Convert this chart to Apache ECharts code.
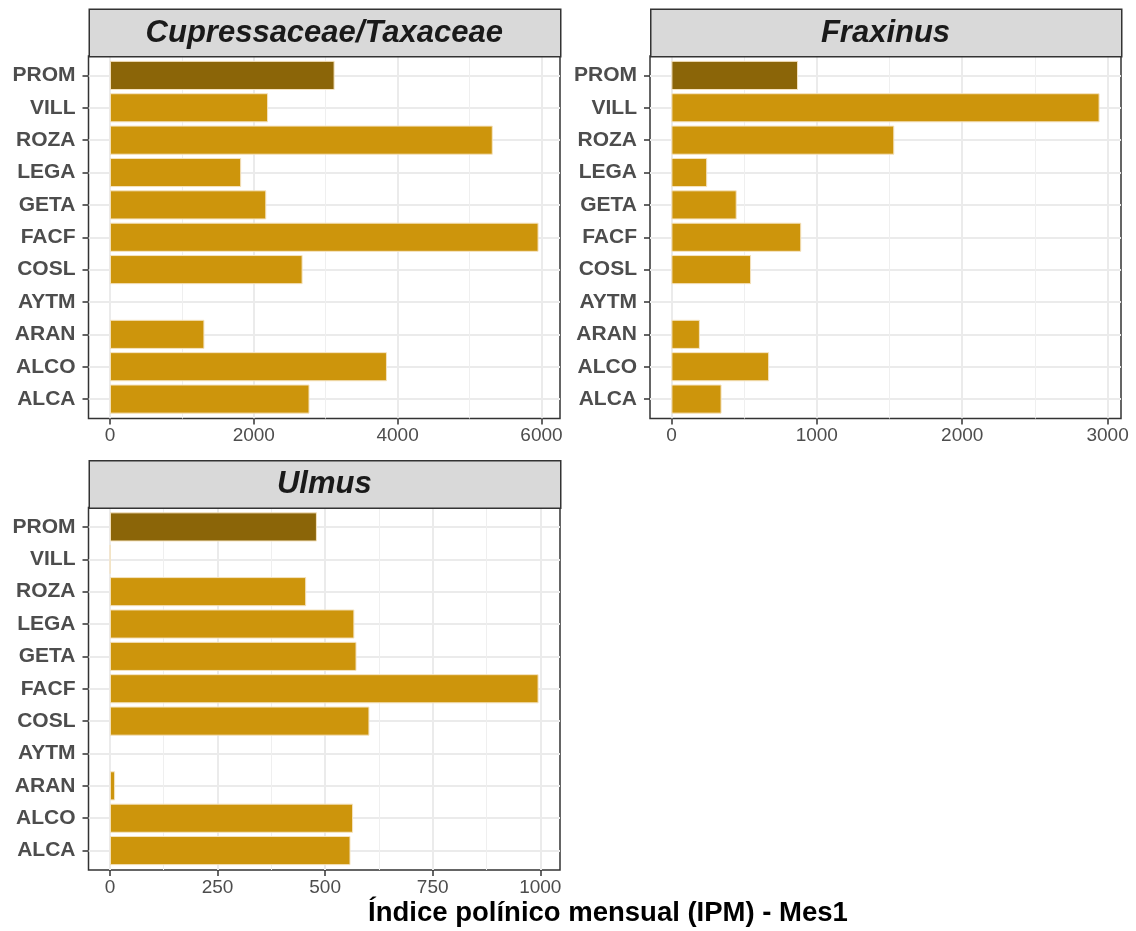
<!DOCTYPE html>
<html><head><meta charset="utf-8">
<script src="https://cdn.jsdelivr.net/npm/echarts@6/dist/echarts.min.js"></script>
<style>html,body{margin:0;padding:0;background:#fff}#c{width:1136px;height:931px}</style>
</head><body><div id="c"></div>
<script>
// ---- data ----
const categories = ['ALCA','ALCO','ARAN','AYTM','COSL','FACF','GETA','LEGA','ROZA','VILL','PROM'];
const panelTitles = ['Cupressaceae/Taxaceae','Fraxinus','Ulmus'];
const cupressaceae = [2775,3852,1314,null,2679,5960,2174,1825,5323,2199,3124];
const fraxinus     = [345,672,196,null,548,893,449,246,1533,2945,871];
const ulmus        = [559,565,12,null,603,996,573,568,456,1,481];
const ticksCupressaceae = [0,2000,4000,6000];
const ticksFraxinus     = [0,1000,2000,3000];
const ticksUlmus        = [0,250,500,750,1000];
const minorCupressaceae = [1000,3000,5000];
const minorFraxinus     = [500,1500,2500];
const minorUlmus        = [125,375,625,875];
const xTitle = 'Índice polínico mensual (IPM) - Mes1';

// ---- layout / style ----
const FONT = "'Liberation Sans', Arial, Helvetica, sans-serif";
const seriesValues = [cupressaceae, fraxinus, ulmus];
const majorTicks = [ticksCupressaceae, ticksFraxinus, ticksUlmus];
const minorTicks = [minorCupressaceae, minorFraxinus, minorUlmus];
const panels = [
  {left: 88.5, top: 56, width: 471.5},
  {left: 650, top: 56, width: 471},
  {left: 88.5, top: 507.5, width: 471.5}
];
const PH = 362.5;           // panel height
const STRIP = 47.5;         // strip height
const band = PH / (categories.length + 0.2);
const COL_MAIN = '#CD950C', COL_PROM = '#8B6508';

const grid = [], xAxis = [], yAxis = [], series = [], graphic = [];
panels.forEach((p, i) => {
  const vals = seriesValues[i];
  const vmax = Math.max(...vals.filter(v => v != null));
  const lo = -0.05 * vmax, hi = 1.05 * vmax;
  const gA = grid.length;
  grid.push({left: p.left, top: p.top, width: p.width, height: PH, show: true,
    backgroundColor: '#ffffff', borderColor: '#333333', borderWidth: 1.5, containLabel: false});
  const gB = grid.length;
  grid.push({left: p.left, top: p.top + 0.1 * band, width: p.width, height: band * categories.length,
    show: false, containLabel: false});
  // minor vertical grid
  xAxis.push({type: 'value', gridIndex: gA, min: lo, max: hi, position: 'bottom',
    axisLine: {show: false, onZero: false}, axisLabel: {show: false},
    axisTick: {show: false, customValues: minorTicks[i]},
    splitLine: {show: true, lineStyle: {color: '#EFEFEF', width: 1}}});
  // major vertical grid + ticks + labels
  xAxis.push({type: 'value', gridIndex: gA, min: lo, max: hi, position: 'bottom',
    axisLine: {show: false, onZero: false},
    axisTick: {show: true, length: 6, customValues: majorTicks[i], lineStyle: {color: '#333333', width: 1.5}},
    axisLabel: {show: true, customValues: majorTicks[i], margin: 8, color: '#4D4D4D',
      fontFamily: FONT, fontSize: 19, formatter: v => String(v)},
    splitLine: {show: true, lineStyle: {color: '#EBEBEB', width: 2}}});
  const xB = xAxis.length;
  xAxis.push({type: 'value', gridIndex: gB, min: lo, max: hi, show: false,
    axisLine: {onZero: false}, splitLine: {show: false}});
  // horizontal grid lines at category positions
  yAxis.push({type: 'value', gridIndex: gA, min: 0.4, max: categories.length + 0.6,
    axisLine: {show: false, onZero: false}, axisLabel: {show: false},
    axisTick: {show: false, customValues: categories.map((c, k) => k + 1)},
    splitLine: {show: true, lineStyle: {color: '#EBEBEB', width: 2}}});
  const yB = yAxis.length;
  yAxis.push({type: 'category', gridIndex: gB, data: categories, boundaryGap: true, position: 'left',
    axisLine: {show: false, onZero: false},
    axisTick: {show: true, alignWithLabel: true, length: 6, lineStyle: {color: '#333333', width: 1.5}},
    axisLabel: {show: true, margin: 13, color: '#4D4D4D', fontFamily: FONT, fontSize: 21, fontWeight: 'bold'},
    splitLine: {show: false}});
  series.push({type: 'bar', xAxisIndex: xB, yAxisIndex: yB, data: vals,
    barCategoryGap: '10%', clip: false,
    itemStyle: {color: params => params.name === 'PROM' ? COL_PROM : COL_MAIN,
      borderColor: '#F5E3C0', borderWidth: 1}});
  // facet strip
  graphic.push({type: 'rect', left: p.left, top: p.top - STRIP,
    shape: {x: 0, y: 0, width: p.width, height: STRIP},
    style: {fill: '#D9D9D9', stroke: '#333333', lineWidth: 1.5}, z: 10});
  graphic.push({type: 'text', x: p.left + p.width / 2, y: p.top - STRIP / 2 + 1,
    style: {text: panelTitles[i], fill: '#1A1A1A', font: `italic bold 31px ${FONT}`,
      align: 'center', verticalAlign: 'middle'}, z: 11});
});
graphic.push({type: 'text', x: 608, y: 913,
  style: {text: xTitle, fill: '#000000', font: `bold 27.5px ${FONT}`, align: 'center', verticalAlign: 'middle'}, z: 11});

const chart = echarts.init(document.getElementById('c'), null, {renderer: 'canvas'});
chart.setOption({animation: false, backgroundColor: '#ffffff', grid, xAxis, yAxis, series, graphic});
</script>
</body></html>
